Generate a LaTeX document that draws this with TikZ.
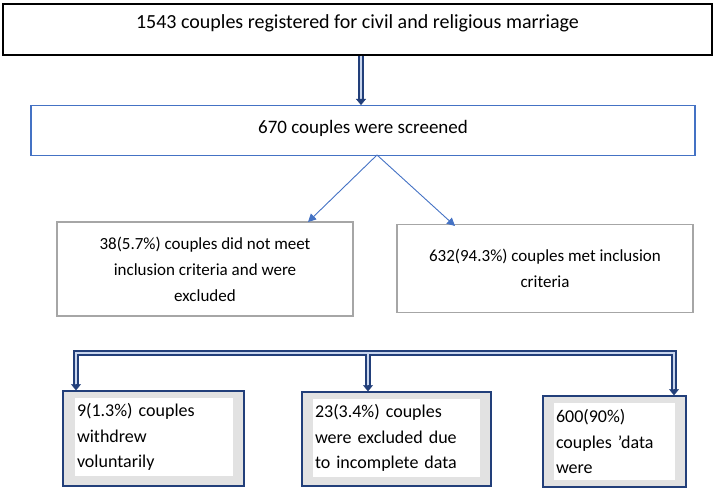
\documentclass[tikz,border=0pt]{standalone}
\usepackage{fontspec}
\setmainfont{Carlito}
\usetikzlibrary{arrows.meta,calc}
\definecolor{navyc}{HTML}{223F7A}
\definecolor{blueb}{HTML}{4472C4}
\definecolor{grayb}{HTML}{A6A6A6}
\definecolor{grayf}{HTML}{E2E2E2}
\definecolor{dblin}{HTML}{C9D6EE}
\begin{document}
\begin{tikzpicture}[x=1pt,y=-1pt,
  topbox/.style={draw=black, line width=1.6pt, inner sep=0pt, font=\fontsize{20}{24}\selectfont},
  screenbox/.style={draw=blueb, line width=1.2pt, inner sep=0pt, font=\fontsize{19}{23}\selectfont},
  midbox/.style={draw=grayb, line width=1.2pt, inner sep=0pt, align=center, font=\fontsize{17}{26}\selectfont},
  framebox/.style={draw=navyc, line width=1.5pt, fill=grayf, inner sep=0pt},
  textbox/.style={fill=white, inner xsep=2pt, inner ysep=0pt, align=left, font=\fontsize{18}{25.5}\selectfont},
  dbl/.style={draw=navyc, line width=1.6pt, double=dblin, double distance=2.6pt, line join=miter},
  dblhead/.style={draw=navyc, fill=navyc, line width=0.4pt, -{Triangle[width=10pt,length=6pt]}},
  bluearr/.style={draw=blueb, line width=0.9pt, -{Triangle[width=8pt,length=8pt]}}
]
\useasboundingbox (0,0) rectangle (715,489);

% top box
\node[topbox, anchor=north, minimum width=709pt, text height=25pt, text depth=26pt] (top) at (357.5,3)
  {1543 couples registered for civil and religious marriage};
% screened box
\node[screenbox, anchor=north, minimum width=664pt, text height=28pt, text depth=22pt] (scr) at (363,105)
  {670 couples were screened};

% double arrow top -> screened
\coordinate (t1) at (361,54);
\draw[dbl] (top.south -| t1) -- ($(t1 |- scr.north)+(0,-5)$);
\draw[dblhead] ($(t1 |- scr.north)+(0,-6)$) -- (t1 |- scr.north);

% middle boxes
\node[midbox, minimum width=296pt, minimum height=94pt] (exc) at (205,269)
  {38(5.7\%) couples did not meet\\inclusion criteria and were\\excluded};
\node[midbox, minimum width=296pt, minimum height=88pt] (inc) at (545,268.5)
  {632(94.3\%) couples met inclusion\\criteria};

% thin arrows
\coordinate (ap) at (377,155);
\coordinate (tl) at (308,222);
\coordinate (tr) at (455,226);
\draw[bluearr] (ap) -- (tl);
\draw[bluearr] (ap) -- (tr);

% bottom boxes
\node[framebox, minimum width=181pt, minimum height=95pt] (f1) at (153.5,438.5) {};
\node[textbox, minimum width=158pt, minimum height=78pt, text width=154pt] (c1) at (154,437)
  {9(1.3\%) couples\\withdrew\\voluntarily};
\node[framebox, minimum width=189pt, minimum height=94pt] (f2) at (396.5,439) {};
\node[textbox, minimum width=167pt, minimum height=78pt, text width=163pt] (c2) at (396.5,438)
  {23(3.4\%) couples\\were excluded due\\to incomplete data};
\node[framebox, minimum width=143pt, minimum height=91pt] (f3) at (614.5,441.5) {};
\node[textbox, minimum width=121pt, minimum height=77pt, text width=117pt] (c3) at (614.5,441.5)
  {600(90\%)\\couples 'data\\were};

% bracket
\coordinate (bl) at (76,353);
\coordinate (bm) at (368,353);
\coordinate (br) at (674,353);
\draw[dbl] ($(bl |- f1.north)+(0,-5)$) -- (bl) -- (br) -- ($(br |- f3.north)+(0,-5)$);
\draw[dbl] ($(bm)+(0,1.4)$) -- ($(bm |- f2.north)+(0,-5)$);
\draw[dblhead] ($(bl |- f1.north)+(0,-6)$) -- (bl |- f1.north);
\draw[dblhead] ($(bm |- f2.north)+(0,-6)$) -- (bm |- f2.north);
\draw[dblhead] ($(br |- f3.north)+(0,-6)$) -- (br |- f3.north);
\end{tikzpicture}
\end{document}
